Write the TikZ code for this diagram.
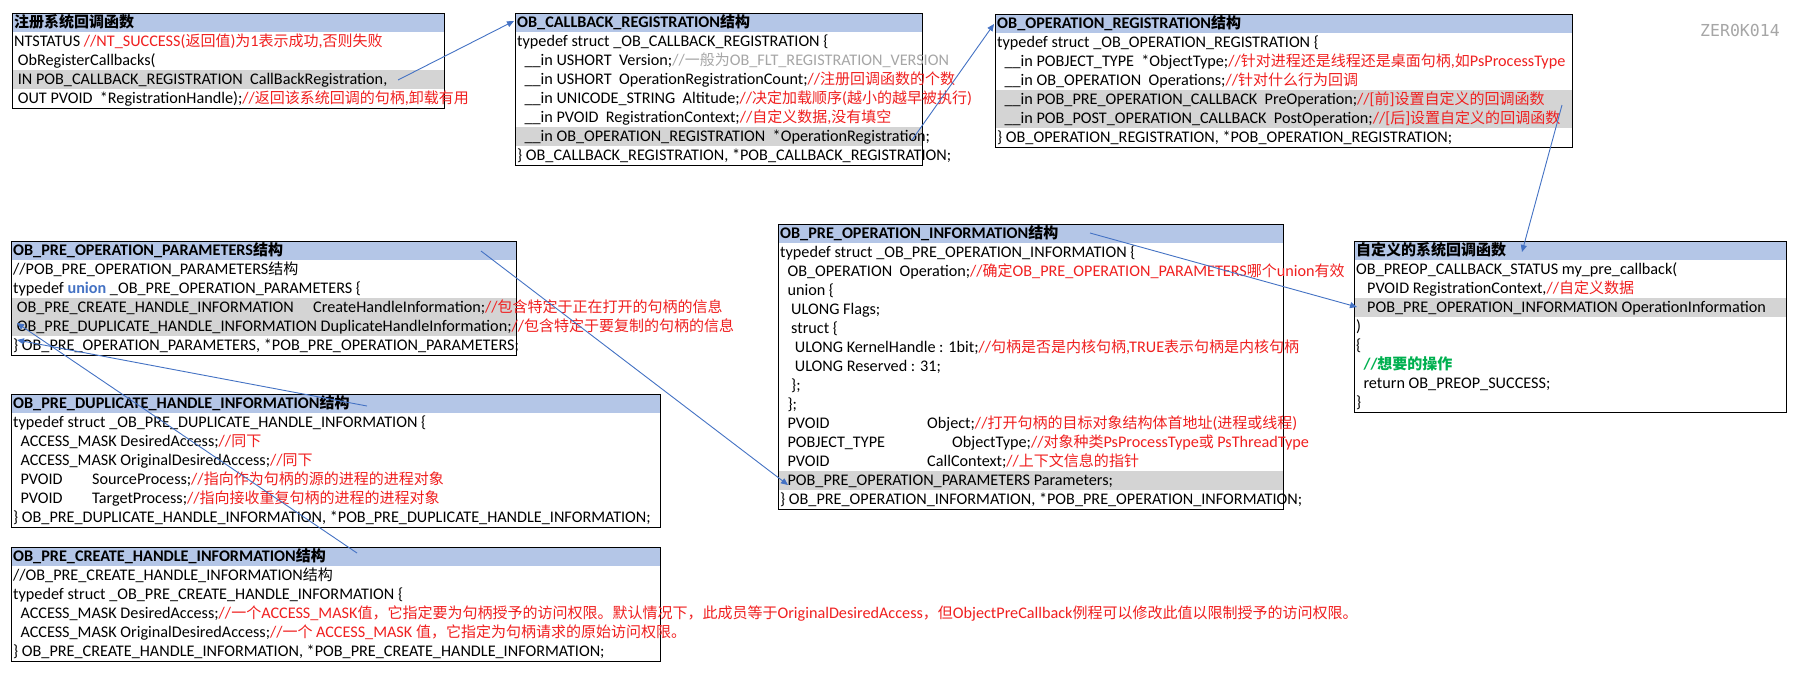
\documentclass[tikz,border=0pt]{standalone}
\usepackage{fontspec}
\setmainfont{Carlito}
\newfontfamily\cjk[Scale=0.926]{Noto Sans CJK SC}
\newfontfamily\wmfont{DejaVu Sans Mono}
\usetikzlibrary{arrows.meta,positioning,calc}
% Han characters switch to the CJK font by themselves
\newXeTeXintercharclass\hanclass
\newcount\hanc
\hanc="4E00
\loop\ifnum\hanc<"A000
 \XeTeXcharclass\hanc=\hanclass
 \advance\hanc by 1
\repeat
\XeTeXcharclass"3002=\hanclass
\XeTeXcharclass"FF0C=\hanclass
\XeTeXinterchartoks 0 \hanclass={\cjk}
\XeTeXinterchartoks 4095 \hanclass={\cjk}
\XeTeXinterchartoks \hanclass 0={\rmfamily}
\XeTeXinterchartoks 4095 0={\rmfamily}
\definecolor{hdrblue}{HTML}{B4C6E7}
\definecolor{rowgray}{HTML}{D4D4D4}
\definecolor{cmtred}{HTML}{F02020}
\definecolor{cmtgray}{HTML}{A6A6A6}
\definecolor{kwblue}{HTML}{4472C4}
\definecolor{cmtgreen}{HTML}{00B050}
\definecolor{linkblue}{HTML}{4472C4}
\newcommand\cmt[1]{\textcolor{cmtred}{#1}}

\begin{document}
\catcode`\_=12
\XeTeXinterchartokenstate=1
\begin{tikzpicture}[x=1pt,y=-1pt,
 txt/.style={anchor=base west,inner sep=0pt,font=\fontsize{16.2}{19}\selectfont},
 hd/.style={txt,font=\fontsize{16.2}{19}\selectfont\bfseries},
 frame/.style={draw=black,line width=1pt},
 link/.style={draw=linkblue,line width=0.9pt,-{Triangle[length=7pt,width=6pt]}}]
\fill[white] (0,0) rectangle (1799,673);
\useasboundingbox (0,0) rectangle (1799,673);

% register call
\begin{scope}[shift={(12,13)}]
\fill[hdrblue] (0,0) rectangle (432,19);
\fill[rowgray] (0,57) rectangle (432,76);
\draw[frame] (0,0) rectangle (432,95);
\node[hd] (reg0) at (2,14.5) {注册系统回调函数};
\node[txt] (reg1) at (2,33.5) {NTSTATUS \cmt{//NT_SUCCESS(返回值)为1表示成功,否则失败}};
\node[txt] (reg2) at (2,52.5) {\ ObRegisterCallbacks(};
\node[txt] (reg3) at (2,71.5) {\ IN POB_CALLBACK_REGISTRATION\ \ CallBackRegistration,};
\node[txt] (reg4) at (2,90.5) {\ OUT PVOID\ \ *RegistrationHandle);\cmt{//返回该系统回调的句柄,卸载有用}};
\coordinate (regout) at (386,67);
\end{scope}

% OB_CALLBACK_REGISTRATION
\begin{scope}[shift={(515,13)}]
\fill[hdrblue] (0,0) rectangle (407,19);
\fill[rowgray] (0,114) rectangle (407,133);
\draw[frame] (0,0) rectangle (407,152);
\node[hd] (cbr0) at (2,14.5) {OB_CALLBACK_REGISTRATION结构};
\node[txt] (cbr1) at (2,33.5) {typedef struct _OB_CALLBACK_REGISTRATION \{};
\node[txt] (cbr2) at (2,52.5) {\ \ __in USHORT\ \ Version;\textcolor{cmtgray}{//一般为OB_FLT_REGISTRATION_VERSION}};
\node[txt] (cbr3) at (2,71.5) {\ \ __in USHORT\ \ OperationRegistrationCount;\cmt{//注册回调函数的个数}};
\node[txt] (cbr4) at (2,90.5) {\ \ __in UNICODE_STRING\ \ Altitude;\cmt{//决定加载顺序(越小的越早被执行)}};
\node[txt] (cbr5) at (2,109.5) {\ \ __in PVOID\ \ RegistrationContext;\cmt{//自定义数据,没有填空}};
\node[txt] (cbr6) at (2,128.5) {\ \ __in OB_OPERATION_REGISTRATION\ \ *OperationRegistration;};
\node[txt] (cbr7) at (2,147.5) {\} OB_CALLBACK_REGISTRATION, *POB_CALLBACK_REGISTRATION;};
\coordinate (cbrin) at (-1,8);
\coordinate (cbrout) at (397,127);
\end{scope}

% OB_OPERATION_REGISTRATION
\begin{scope}[shift={(995,14)}]
\fill[hdrblue] (0,0) rectangle (577,19);
\fill[rowgray] (0,76) rectangle (577,114);
\draw[frame] (0,0) rectangle (577,133);
\node[hd] (opr0) at (2,14.5) {OB_OPERATION_REGISTRATION结构};
\node[txt] (opr1) at (2,33.5) {typedef struct _OB_OPERATION_REGISTRATION \{};
\node[txt] (opr2) at (2,52.5) {\ \ __in POBJECT_TYPE\ \ *ObjectType;\cmt{//针对进程还是线程还是桌面句柄,如PsProcessType}};
\node[txt] (opr3) at (2,71.5) {\ \ __in OB_OPERATION\ \ Operations;\cmt{//针对什么行为回调}};
\node[txt] (opr4) at (2,90.5) {\ \ __in POB_PRE_OPERATION_CALLBACK\ \ PreOperation;\cmt{//[前]设置自定义的回调函数}};
\node[txt] (opr5) at (2,109.5) {\ \ __in POB_POST_OPERATION_CALLBACK\ \ PostOperation;\cmt{//[后]设置自定义的回调函数}};
\node[txt] (opr6) at (2,128.5) {\} OB_OPERATION_REGISTRATION, *POB_OPERATION_REGISTRATION;};
\coordinate (oprin) at (-1,10);
\coordinate (oprout) at (567,91);
\end{scope}

\node[text=cmtgray,anchor=base west,inner sep=0pt] (wm) at (1700,36)
 {\XeTeXinterchartokenstate=0 \fontsize{16.5}{18}\selectfont\wmfont ZER0K014};

% OB_PRE_OPERATION_PARAMETERS
\begin{scope}[shift={(11,241)}]
\fill[hdrblue] (0,0) rectangle (505,19);
\fill[rowgray] (0,57) rectangle (505,95);
\draw[frame] (0,0) rectangle (505,114);
\node[hd] (prm0) at (2,14.5) {OB_PRE_OPERATION_PARAMETERS结构};
\node[txt] (prm1) at (2,33.5) {//POB_PRE_OPERATION_PARAMETERS结构};
\node[txt] (prm2) at (2,52.5) {typedef \textcolor{kwblue}{\bfseries union} _OB_PRE_OPERATION_PARAMETERS \{};
\node[txt] (prm3) at (2,71.5) {\ OB_PRE_CREATE_HANDLE_INFORMATION};
\node[txt] (prm3b) at (302,71.5) {CreateHandleInformation;\cmt{//包含特定于正在打开的句柄的信息}};
\node[txt] (prm4) at (2,90.5) {\ OB_PRE_DUPLICATE_HANDLE_INFORMATION DuplicateHandleInformation;\cmt{//包含特定于要复制的句柄的信息}};
\node[txt] (prm5) at (2,109.5) {\} OB_PRE_OPERATION_PARAMETERS, *POB_PRE_OPERATION_PARAMETERS;};
\coordinate (prmout) at (470,10);
\coordinate (prmcrt) at (6,82);
\coordinate (prmdup) at (6,99);
\end{scope}

% OB_PRE_DUPLICATE_HANDLE_INFORMATION
\begin{scope}[shift={(11,394)}]
\fill[hdrblue] (0,0) rectangle (649,19);
\draw[frame] (0,0) rectangle (649,133);
\node[hd] (dup0) at (2,14.5) {OB_PRE_DUPLICATE_HANDLE_INFORMATION结构};
\node[txt] (dup1) at (2,33.5) {typedef struct _OB_PRE_DUPLICATE_HANDLE_INFORMATION \{};
\node[txt] (dup2) at (2,52.5) {\ \ ACCESS_MASK DesiredAccess;\cmt{//同下}};
\node[txt] (dup3) at (2,71.5) {\ \ ACCESS_MASK OriginalDesiredAccess;\cmt{//同下}};
\node[txt] (dup4) at (2,90.5) {\ \ PVOID};
\node[txt] (dup4b) at (81,90.5) {SourceProcess;\cmt{//指向作为句柄的源的进程的进程对象}};
\node[txt] (dup5) at (2,109.5) {\ \ PVOID};
\node[txt] (dup5b) at (81,109.5) {TargetProcess;\cmt{//指向接收重复句柄的进程的进程对象}};
\node[txt] (dup6) at (2,128.5) {\} OB_PRE_DUPLICATE_HANDLE_INFORMATION, *POB_PRE_DUPLICATE_HANDLE_INFORMATION;};
\coordinate (dupout) at (356,12);
\end{scope}

% OB_PRE_CREATE_HANDLE_INFORMATION
\begin{scope}[shift={(11,547)}]
\fill[hdrblue] (0,0) rectangle (649,19);
\draw[frame] (0,0) rectangle (649,114);
\node[hd] (crt0) at (2,14.5) {OB_PRE_CREATE_HANDLE_INFORMATION结构};
\node[txt] (crt1) at (2,33.5) {//OB_PRE_CREATE_HANDLE_INFORMATION结构};
\node[txt] (crt2) at (2,52.5) {typedef struct _OB_PRE_CREATE_HANDLE_INFORMATION \{};
\node[txt] (crt3) at (2,71.5) {\ \ ACCESS_MASK DesiredAccess;\cmt{//一个ACCESS_MASK值，它指定要为句柄授予的访问权限。默认情况下，此成员等于OriginalDesiredAccess，但ObjectPreCallback例程可以修改此值以限制授予的访问权限。}};
\node[txt] (crt4) at (2,90.5) {\ \ ACCESS_MASK OriginalDesiredAccess;\cmt{//一个 ACCESS_MASK 值，它指定为句柄请求的原始访问权限。}};
\node[txt] (crt5) at (2,109.5) {\} OB_PRE_CREATE_HANDLE_INFORMATION, *POB_PRE_CREATE_HANDLE_INFORMATION;};
\coordinate (crtout) at (346,6);
\end{scope}

% OB_PRE_OPERATION_INFORMATION
\begin{scope}[shift={(778,224)}]
\fill[hdrblue] (0,0) rectangle (505,19);
\fill[rowgray] (0,247) rectangle (505,266);
\draw[frame] (0,0) rectangle (505,285);
\node[hd] (inf0) at (2,14.5) {OB_PRE_OPERATION_INFORMATION结构};
\node[txt] (inf1) at (2,33.5) {typedef struct _OB_PRE_OPERATION_INFORMATION \{};
\node[txt] (inf2) at (2,52.5) {\ \ OB_OPERATION\ \ Operation;\cmt{//确定OB_PRE_OPERATION_PARAMETERS哪个union有效}};
\node[txt] (inf3) at (2,71.5) {\ \ union \{};
\node[txt] (inf4) at (2,90.5) {\ \ \ ULONG Flags;};
\node[txt] (inf5) at (2,109.5) {\ \ \ struct \{};
\node[txt] (inf6) at (2,128.5) {\ \ \ \ ULONG KernelHandle : 1bit;\cmt{//句柄是否是内核句柄,TRUE表示句柄是内核句柄}};
\node[txt] (inf7) at (2,147.5) {\ \ \ \ ULONG Reserved : 31;};
\node[txt] (inf8) at (2,166.5) {\ \ \ \};};
\node[txt] (inf9) at (2,185.5) {\ \ \};};
\node[txt] (inf10) at (2,204.5) {\ \ PVOID};
\node[txt] (inf10b) at (149,204.5) {Object;\cmt{//打开句柄的目标对象结构体首地址(进程或线程)}};
\node[txt] (inf11) at (2,223.5) {\ \ POBJECT_TYPE};
\node[txt] (inf11b) at (174,223.5) {ObjectType;\cmt{//对象种类PsProcessType或 PsThreadType}};
\node[txt] (inf12) at (2,242.5) {\ \ PVOID};
\node[txt] (inf12b) at (149,242.5) {CallContext;\cmt{//上下文信息的指针}};
\node[txt] (inf13) at (2,261.5) {\ \ POB_PRE_OPERATION_PARAMETERS Parameters;};
\node[txt] (inf14) at (2,280.5) {\} OB_PRE_OPERATION_INFORMATION, *POB_PRE_OPERATION_INFORMATION;};
\coordinate (infout) at (312,9);
\coordinate (infarg) at (10,261);
\end{scope}

% my_pre_callback
\begin{scope}[shift={(1354,241)}]
\fill[hdrblue] (0,0) rectangle (432,19);
\fill[rowgray] (0,57) rectangle (432,76);
\draw[frame] (0,0) rectangle (432,171);
\node[hd] (cbk0) at (2,14.5) {自定义的系统回调函数};
\node[txt] (cbk1) at (2,33.5) {OB_PREOP_CALLBACK_STATUS my_pre_callback(};
\node[txt] (cbk2) at (2,52.5) {\ \ \ PVOID RegistrationContext,\cmt{//自定义数据}};
\node[txt] (cbk3) at (2,71.5) {\ \ \ POB_PRE_OPERATION_INFORMATION OperationInformation};
\node[txt] (cbk4) at (2,90.5) {)};
\node[txt] (cbk5) at (2,109.5) {\{};
\node[txt] (cbk6) at (2,128.5) {\ \ \textcolor{cmtgreen}{\bfseries //想要的操作}};
\node[txt] (cbk7) at (2,147.5) {\ \ return OB_PREOP_SUCCESS;};
\node[txt] (cbk8) at (2,166.5) {\}};
\coordinate (cbkin) at (168,11);
\coordinate (cbkarg) at (3,66);
\end{scope}

\draw[link] (regout) -- (cbrin);
\draw[link] (cbrout) -- (oprin);
\draw[link] (oprout) -- (cbkin);
\draw[link] (infout) -- (cbkarg);
\draw[link] (prmout) -- (infarg);
\draw[link] (crtout) -- (prmcrt);
\draw[link] (dupout) -- (prmdup);
\end{tikzpicture}
\end{document}
